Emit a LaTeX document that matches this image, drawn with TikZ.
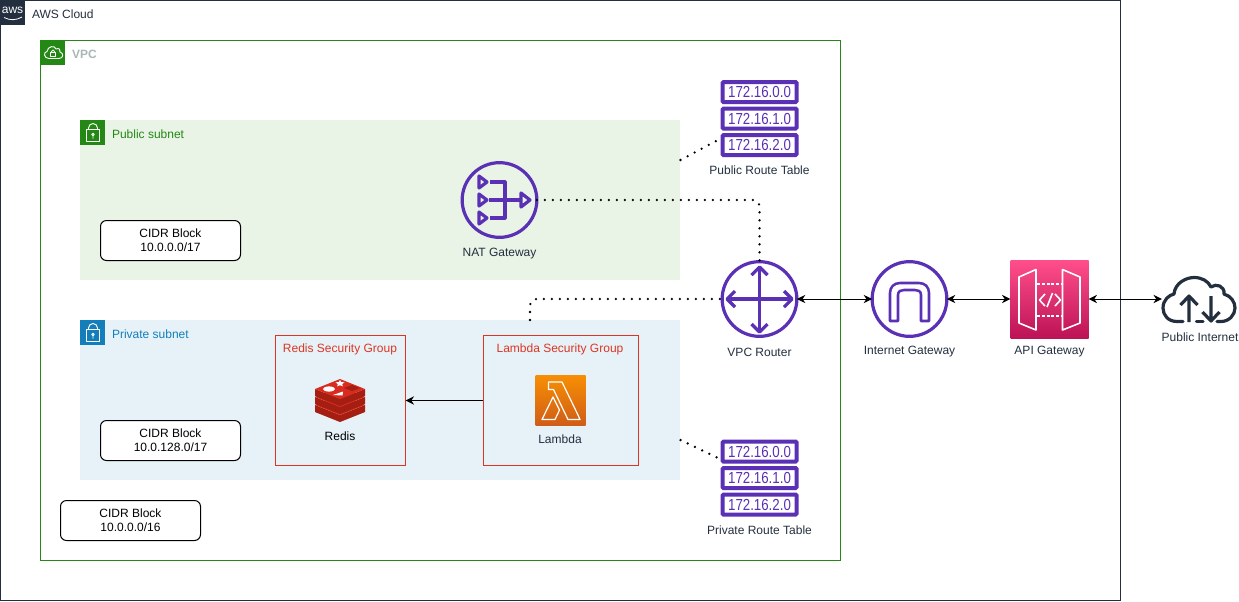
\documentclass[tikz,border=0pt]{standalone}
\usepackage{fontspec}
\setmainfont{Liberation Sans}
\usetikzlibrary{arrows.meta,shapes.geometric}
\definecolor{awsdark}{HTML}{232F3E}
\definecolor{vpcgreen}{HTML}{248814}
\definecolor{pubfill}{HTML}{E9F3E6}
\definecolor{privfill}{HTML}{E6F2F8}
\definecolor{privblue}{HTML}{147EBA}
\definecolor{purp}{HTML}{5A30B5}
\definecolor{sgred}{HTML}{DD3522}
\definecolor{vpcgrey}{HTML}{AAB7B8}
\definecolor{rdark}{HTML}{A41E11}
\definecolor{rred}{HTML}{D82C20}
\definecolor{apitop}{HTML}{FF4F8B}
\definecolor{apibot}{HTML}{BC1356}
\definecolor{lamtop}{HTML}{F78E04}
\definecolor{lambot}{HTML}{D05C17}
\tikzset{
  wh/.style n args={2}{minimum width=#1*0.75pt,minimum height=#2*0.75pt},
  lbl/.style={text=awsdark,align=center},
  capt/.style={text=awsdark,anchor=west},
  cidrbox/.style={draw=black,fill=white,rounded corners=4.5pt,line width=0.75pt,wh={140}{40},align=center,text=black},
  sgbox/.style={draw=sgred,line width=0.75pt,wh={#1}{130}},
  rtrow/.style={draw=purp,fill=white,line width=3pt,rounded corners=0.8pt,wh={74}{20},text=purp},
  routerc/.style={circle,draw=purp,line width=2.4pt,minimum size=56pt,fill=none},
  iconline/.style={draw=purp,line width=2.4pt,line join=round},
  dotline/.style={draw=black,line width=1.9pt,line cap=round,dash pattern=on 0pt off 6pt,rounded corners=5pt},
  link/.style={draw=black,line width=0.75pt,{Stealth[length=6.4pt,width=6.2pt]}-{Stealth[length=6.4pt,width=6.2pt]}},
  oneway/.style={draw=black,line width=0.75pt,-{Stealth[length=6.4pt,width=6.2pt]}},
  wline/.style={draw=white,line width=0.9pt,line join=round},
  ipaddr/.style={font=\fontsize{12pt}{12pt}\selectfont}
}
\newcommand{\ipt}[1]{\scalebox{0.83}[1]{#1}}
\begin{document}
\begin{tikzpicture}[x=0.75pt,y=-0.75pt,
  every node/.style={inner sep=0pt,outer sep=0pt,font=\fontsize{9pt}{10.6pt}\selectfont}]
\useasboundingbox (0,0) rectangle (1239,601);

% containers
\node[draw=awsdark,line width=0.75pt,wh={1120}{600},anchor=north west] (cloudbox) at (0.5,0.5) {};
\node[draw=vpcgreen,line width=0.75pt,wh={800}{520},anchor=north west] (vpcbox) at (40.5,40.5) {};
\node[fill=pubfill,wh={600}{160},anchor=north west] (pubsub) at (80,120) {};
\node[fill=privfill,wh={600}{160},anchor=north west] (privsub) at (80,320) {};

% container tabs
\node[fill=awsdark,wh={25}{25},anchor=north west] (awstab) at (0,0) {};
\node[text=white,font=\fontsize{9pt}{9pt}\selectfont] (awsword) at (12.5,10) {aws};
\draw[white,line width=0.6pt] (4,17.5) .. controls (10,20.5) and (16,20.5) .. (22,17);
\node[capt] (awslabel) at (32,14) {AWS Cloud};

\node[fill=vpcgreen,wh={25}{25},anchor=north west] (vpctab) at (40,40) {};
\draw[wline,line width=0.7pt] (49,58.5) .. controls (44,58.5) and (43,52) .. (47,51.5) .. controls (47.5,46) and (55,45) .. (56,49) .. controls (59,47.5) and (61,50) .. (60,52) .. controls (64,53) and (63.5,58.5) .. (59,58.5) -- cycle;
\draw[wline,line width=0.7pt] (50.5,52.5) rectangle (55.5,56.5);
\draw[wline,line width=0.6pt] (51.5,52.5) -- (51.5,51.5) arc (180:360:1.5) -- (54.5,52.5);
\node[text=vpcgrey,anchor=west,font=\bfseries\fontsize{9pt}{10pt}\selectfont] (vpclabel) at (72,54) {VPC};

\node[fill=vpcgreen,wh={25}{25},anchor=north west] (pubtab) at (80,120) {};
\draw[wline,line width=0.7pt] (86.5,129.5) rectangle (99.5,141.5);
\draw[wline,line width=0.7pt] (88.5,129.5) -- (88.5,128) arc (180:360:4.5) -- (97.5,129.5);
\draw[wline,line width=0.6pt] (93,134.5) circle (1.3) (93,136) -- (93,138.5);
\node[anchor=west,text=vpcgreen] (publabel) at (112,134) {Public subnet};

\node[fill=privblue,wh={25}{25},anchor=north west] (privtab) at (80,320) {};
\draw[wline,line width=0.7pt] (86.5,329.5) rectangle (99.5,341.5);
\draw[wline,line width=0.7pt] (88.5,329.5) -- (88.5,328) arc (180:360:4.5) -- (97.5,329.5);
\draw[wline,line width=0.6pt] (93,334.5) circle (1.3) (93,336) -- (93,338.5);
\node[anchor=west,text=privblue] (privlabel) at (112,334) {Private subnet};

% CIDR boxes
\node[cidrbox] (cidrpub) at (170.5,240.5) {CIDR Block\\10.0.0.0/17};
\node[cidrbox] (cidrpriv) at (170.5,440.5) {CIDR Block\\10.0.128.0/17};
\node[cidrbox] (cidrvpc) at (130.5,520.5) {CIDR Block\\10.0.0.0/16};

% security groups
\node[sgbox=130] (redissg) at (340.5,400.5) {};
\node[sgbox=155] (lambdasg) at (560.5,400.5) {};
\node[text=sgred] (redissgl) at (340,349) {Redis Security Group};
\node[text=sgred] (lambdasgl) at (560,349) {Lambda Security Group};

% Redis icon
\foreach \o in {16,8,0}{
  \fill[rdark] (315,389+\o) -- (340,399+\o) -- (365,389+\o) -- (365,396+\o) -- (340,406+\o) -- (315,396+\o) -- cycle;
  \fill[rred] (315,389+\o) -- (340,379+\o) -- (365,389+\o) -- (340,399+\o) -- cycle;
}
\fill[white] (329,389) ellipse (6 and 2.6);
\fill[white] (340,380) -- (341.2,382) -- (344.5,382.4) -- (342.2,384) -- (342.8,386.3) -- (340,385.2) -- (337.2,386.3) -- (337.8,384) -- (335.5,382.4) -- (338.8,382) -- cycle;
\fill[white] (333,395) -- (343,391.5) -- (342.5,395.5) -- cycle;
\fill[rdark] (344,388) -- (352,385) -- (360,388) -- (352,391) -- cycle;
\node[text=black] (redislabel) at (340,436) {Redis};

% Lambda icon
\node[wh={50}{50},top color=lamtop,bottom color=lambot,draw=none,anchor=north west] (lambdaicon) at (535.5,375.5) {};
\draw[wline] (548.5,382) -- (562,382) -- (578,415) -- (580,419.5) -- (568,419.5) -- (553.5,389.5) -- (548.5,389.5) -- cycle;
\draw[wline] (553,397) -- (559.5,410) -- (555,419.5) -- (542,419.5) -- cycle;
\node[lbl] (lambdalabel) at (560,439) {Lambda};
\draw[oneway] (lambdasg.west) -- (redissg.east);

% NAT
\node[routerc] (nat) at (499.5,200) {};
\foreach \yy in {182,200,218}{\draw[iconline] (479,\yy-6) -- (487,\yy) -- (479,\yy+6) -- cycle;}
\draw[iconline] (490,182) -- (505,182) -- (505,218) -- (490,218);
\draw[iconline] (489,200) -- (520,200);
\draw[iconline] (521,193) -- (530,200) -- (521,207) -- cycle;
\node[lbl] (natlabel) at (499.5,253.5) {NAT Gateway};

% Router
\node[routerc] (router) at (759.5,299) {};
\draw[iconline] (728,299) -- (791,299) (759.5,268) -- (759.5,331);
\draw[iconline] (735,291) -- (727,299) -- (735,307);
\draw[iconline] (784,291) -- (792,299) -- (784,307);
\draw[iconline] (751.5,275) -- (759.5,267) -- (767.5,275);
\draw[iconline] (751.5,324) -- (759.5,332) -- (767.5,324);
\node[lbl] (routerlabel) at (759.5,352) {VPC Router};

% Internet Gateway
\node[routerc] (igw) at (909.5,299) {};
\draw[iconline,line width=1.9pt] (890,321) -- (890,293) .. controls (890,287) and (894,283) .. (900,283) -- (919,283) .. controls (925,283) and (929,287) .. (929,293) -- (929,321) -- (921,321) -- (921,295) .. controls (921,291) and (918,290) .. (915,290) -- (904,290) .. controls (901,290) and (898,291) .. (898,295) -- (898,321) -- cycle;
\node[lbl] (igwlabel) at (909.5,352) {Internet Gateway};

% API Gateway
\node[wh={78}{78},top color=apitop,bottom color=apibot,draw=none] (api) at (1049.5,299) {};
\draw[wline,line width=1.2pt] (1019,277) -- (1036,269.5) -- (1036,330) -- (1019,323) -- cycle;
\draw[wline,line width=1.2pt] (1062.5,269.5) -- (1080,277) -- (1080,323) -- (1062.5,330) -- cycle;
\draw[wline,line width=1.2pt,dash pattern=on 2.2pt off 1.4pt] (1037,284) -- (1062,284) (1037,316) -- (1062,316);
\draw[wline,line width=1.2pt] (1045,294) -- (1039.5,300) -- (1045,306);
\draw[wline,line width=1.2pt] (1052.5,293) -- (1047,307);
\draw[wline,line width=1.2pt] (1055,294) -- (1060.5,300) -- (1055,306);
\node[lbl] (apilabel) at (1049.5,352) {API Gateway};

% Cloud
\coordinate (cloudicon) at (1162,299);
\draw[awsdark,line width=2.4pt,line cap=round,line join=round]
  (1183,321.5) -- (1177,321.5) .. controls (1168,321.5) and (1163,315) .. (1163,308)
  .. controls (1163,300) and (1169,295) .. (1174,294)
  .. controls (1175,283) and (1186,277.5) .. (1194,277.5)
  .. controls (1202,277.5) and (1208,281) .. (1211,287)
  .. controls (1216,283) and (1225,286) .. (1224,294)
  .. controls (1231,296) and (1235,302) .. (1235,308)
  .. controls (1235,315) and (1229,321.5) .. (1221,321.5) -- (1217,321.5);
\draw[awsdark,line width=2.4pt,line cap=round] (1196.5,321.5) -- (1203,321.5);
\draw[awsdark,line width=2.4pt,line join=round] (1189,322) -- (1189,297) (1180.5,305) -- (1189,296) -- (1197.5,305);
\draw[awsdark,line width=2.4pt,line join=round] (1211,296) -- (1211,320) (1202.5,312) -- (1211,321) -- (1219.5,312);
\node[lbl] (cloudlabel) at (1200,337) {Public Internet};

% Route tables
\node[rtrow,ipaddr] (pr1) at (759.5,92) {\ipt{172.16.0.0}};
\node[rtrow,ipaddr] (pr2) at (759.5,118.5) {\ipt{172.16.1.0}};
\node[rtrow,ipaddr] (pr3) at (759.5,145) {\ipt{172.16.2.0}};
\node[lbl] (prlabel) at (759.5,170) {Public Route Table};
\node[rtrow,ipaddr] (vr1) at (759.5,451.5) {\ipt{172.16.0.0}};
\node[rtrow,ipaddr] (vr2) at (759.5,478) {\ipt{172.16.1.0}};
\node[rtrow,ipaddr] (vr3) at (759.5,504.5) {\ipt{172.16.2.0}};
\node[lbl] (vrlabel) at (759.5,530) {Private Route Table};

% connectors
\coordinate (pubcorner) at (680.5,160);
\coordinate (pubend) at (718,140);
\coordinate (privcorner) at (680.5,440);
\coordinate (privend) at (718,458);
\coordinate (privtop) at (530,320);
\draw[dotline] (pubcorner) -- (pubend);
\draw[dotline] (privcorner) -- (privend);
\draw[dotline] (nat.east) -| (router.north);
\draw[dotline] (privtop) |- (router.west);
\draw[link] (router.east) -- (igw.west);
\draw[link] (igw.east) -- (api.west);
\draw[link] (api.east) -- (cloudicon);
\end{tikzpicture}
\end{document}
